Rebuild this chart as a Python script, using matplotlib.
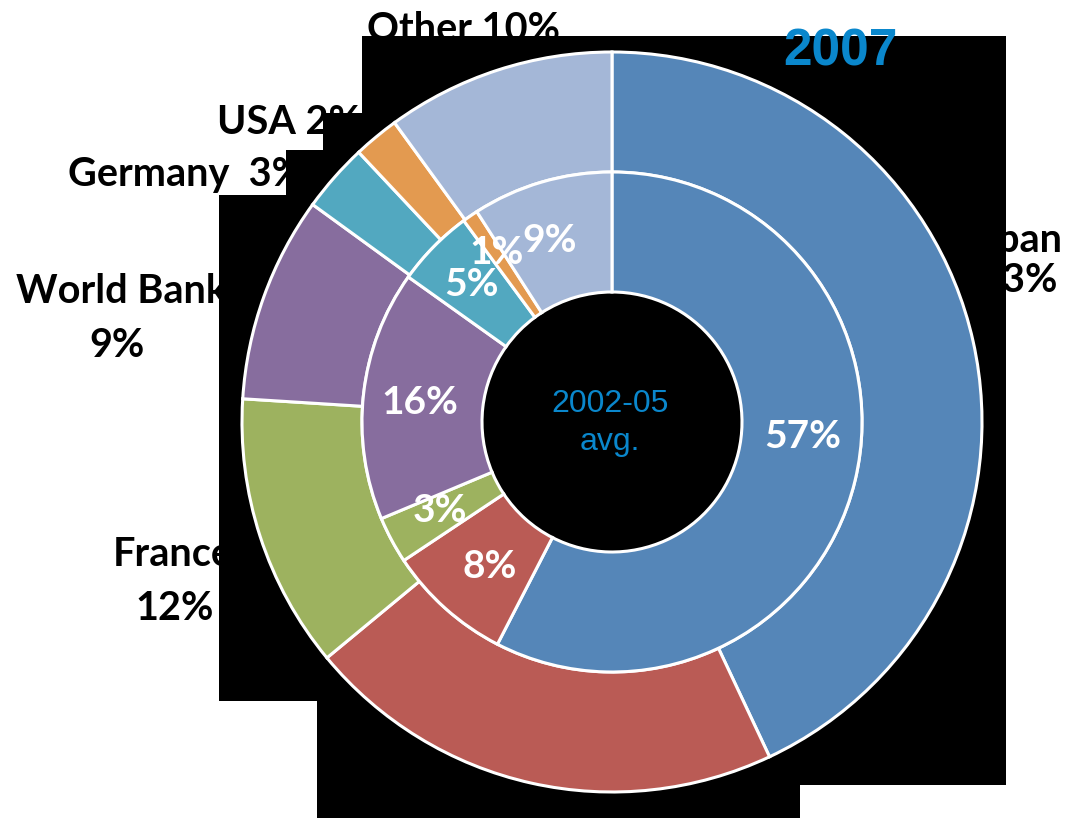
import matplotlib.pyplot as plt
from matplotlib.patches import Polygon

# 2007 (outer ring) and 2002-05 average (inner ring)
donors = ['Japan', 'Korea', 'France', 'World Bank', 'Germany', 'USA', 'Other']
share_2007 = [43, 21, 12, 9, 3, 2, 10]
share_avg = [57, 8, 3, 16, 5, 1, 9]
colors = ['#5586B8', '#BA5B55', '#9DB25F', '#876D9E', '#52A8C0', '#E39A50', '#A4B7D7']

W, H = 1071, 818
fig = plt.figure(figsize=(W / 100, H / 100), dpi=100)
ax = fig.add_axes([0, 0, 1, 1])

def py(y):
    # pixel row (from top) -> data y
    return H - y

cx, cy = 612, py(422)

ax.pie(share_2007, radius=370, center=(cx, cy), startangle=90, counterclock=False,
       colors=colors, wedgeprops=dict(width=120, edgecolor='white', linewidth=2.2, zorder=3))
ax.pie(share_avg, radius=250, center=(cx, cy), startangle=90, counterclock=False,
       colors=colors, wedgeprops=dict(width=120, edgecolor='white', linewidth=2.2, zorder=3))

# black backdrop behind the rings
shape = [(362, 36), (1006, 36), (1006, 785), (800, 785), (800, 818), (317, 818), (317, 701),
         (219, 701), (219, 195), (286, 195), (286, 150), (323, 150), (323, 113), (362, 113)]
ax.add_patch(Polygon([(x, py(y)) for x, y in shape], closed=True, facecolor='black',
                     edgecolor='none', zorder=2))

# outer labels (partly hidden by the backdrop)
lab_font = dict(family='Lato', weight='bold', size=28.5, color='black', zorder=1)
ax.text(367, py(41), f'{donors[6]} {share_2007[6]}%', ha='left', va='baseline', **lab_font)
ax.text(217, py(134), f'{donors[5]} {share_2007[5]}%', ha='left', va='baseline', **lab_font)
ax.text(68, py(186), f'{donors[4]}  {share_2007[4]}%', ha='left', va='baseline', **lab_font)
ax.text(121, py(303), donors[3], ha='center', va='baseline', **lab_font)
ax.text(117, py(357), f'{share_2007[3]}%', ha='center', va='baseline', **lab_font)
ax.text(173, py(566), donors[2], ha='center', va='baseline', **lab_font)
ax.text(175, py(620), f'{share_2007[2]}%', ha='center', va='baseline', **lab_font)
ax.text(1012, py(252), donors[0], ha='center', va='baseline', **lab_font)
ax.text(1019, py(292), f'{share_2007[0]}%', ha='center', va='baseline', **lab_font)

# inner ring labels
inner_pos = [(803, 437), (490, 567), (440, 510), (420, 402), (471, 285), (497, 252), (550, 240)]
for (x, y), v in zip(inner_pos, share_avg):
    ax.text(x, py(y), f'{v}%', ha='center', va='center', family='Lato', weight='bold',
            size=28, color='white', zorder=4)

blue = '#0A87CC'
ax.text(610, py(412), '2002-05', ha='center', va='baseline', family='Liberation Sans',
        size=23, color=blue, zorder=4)
ax.text(610, py(450), 'avg.', ha='center', va='baseline', family='Liberation Sans',
        size=23, color=blue, zorder=4)
ax.text(840, py(66), '2007', ha='center', va='baseline', family='Liberation Sans',
        weight='bold', size=37, color=blue, zorder=5)

ax.set_xlim(0, W)
ax.set_ylim(0, H)
ax.set_aspect('auto')
ax.axis('off')
fig.savefig('out.png', dpi=100)
